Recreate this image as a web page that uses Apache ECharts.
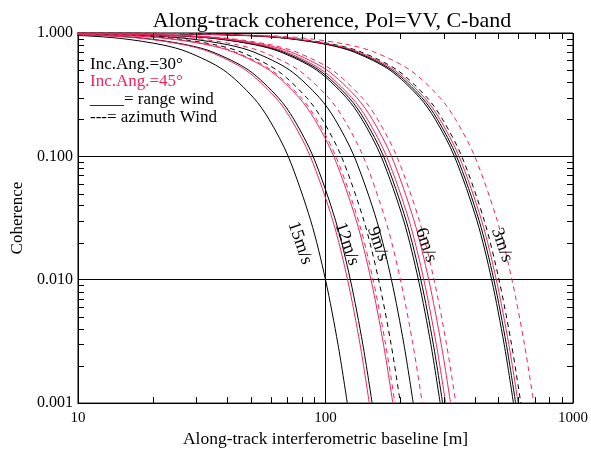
<!DOCTYPE html>
<html>
<head>
<meta charset="utf-8">
<script src="https://cdn.jsdelivr.net/npm/echarts@6/dist/echarts.min.js"></script>
<style>
  html, body { margin: 0; padding: 0; background: #fff; }
  #chart { width: 591px; height: 453px; }
</style>
</head>
<body>
<div id="chart"></div>
<script>
// Coherence levels at which each curve's baseline [m] was sampled
const coherenceLevels = [0.999, 0.99, 0.95, 0.9, 0.8, 0.7, 0.5, 0.3, 0.2, 0.1, 0.03, 0.01, 0.003, 0.001];

// Baselines [m] for each curve, one value per coherence level
const curve15Range30  = [1.47, 4.67, 10.55, 15.12, 22.0, 27.8, 38.8, 51.1, 59.1, 70.7, 87.2, 100.0, 112.3, 122.5];
const curve12Range45  = [1.81, 5.74, 12.95, 18.57, 27.0, 34.2, 47.6, 62.8, 72.6, 86.8, 107.1, 122.8, 137.9, 150.3];
const curve12Range30  = [1.85, 5.89, 13.29, 19.06, 27.7, 35.1, 48.9, 64.4, 74.5, 89.1, 109.9, 126.0, 141.5, 154.3];
const curve9Range45   = [2.25, 7.14, 16.11, 23.1, 33.6, 42.5, 59.3, 78.1, 90.3, 108.0, 133.3, 152.7, 171.5, 187.1];
const curve9Azim45    = [2.29, 7.28, 16.43, 23.6, 34.3, 43.3, 60.4, 79.6, 92.0, 110.1, 135.9, 155.7, 174.9, 190.7];
const curve9Azim30    = [2.41, 7.66, 17.29, 24.8, 36.1, 45.6, 63.6, 83.8, 96.9, 115.9, 143.0, 163.9, 184.1, 200.7];
const curve9Range30   = [2.72, 8.63, 19.49, 27.9, 40.7, 51.4, 71.7, 94.4, 109.2, 130.6, 161.2, 184.7, 207.4, 226.2];
const curve9Azim45b   = [2.95, 9.39, 21.2, 30.4, 44.2, 55.9, 77.9, 102.7, 118.7, 142.0, 175.2, 200.8, 225.5, 246.0];
const curve6Range30   = [3.49, 11.09, 25.0, 35.9, 52.2, 66.0, 92.1, 121.3, 140.3, 167.8, 207.1, 237.3, 266.5, 290.6];
const curve6Range30b  = [3.57, 11.35, 25.6, 36.7, 53.5, 67.6, 94.2, 124.2, 143.5, 171.7, 211.9, 242.8, 272.7, 297.4];
const curve6Range45   = [3.67, 11.67, 26.3, 37.8, 54.9, 69.5, 96.8, 127.6, 147.6, 176.5, 217.8, 249.6, 280.3, 305.7];
const curve6Range45b  = [3.84, 12.22, 27.6, 39.5, 57.5, 72.7, 101.4, 133.6, 154.5, 184.8, 228.0, 261.3, 293.5, 320.1];
const curve6Azim45    = [4.04, 12.83, 29.0, 41.5, 60.4, 76.4, 106.5, 140.4, 162.3, 194.1, 239.5, 274.5, 308.3, 336.2];
const curve3Range30   = [6.90, 21.9, 49.5, 71.0, 103.3, 130.6, 182.1, 239.9, 277.4, 331.8, 409.4, 469.2, 527.0, 574.7];
const curve3Range30b  = [7.04, 22.4, 50.5, 72.4, 105.4, 133.3, 185.8, 244.8, 283.1, 338.6, 417.8, 478.9, 537.8, 586.5];
const curve3Range45   = [7.21, 22.9, 51.7, 74.1, 107.9, 136.4, 190.1, 250.6, 289.7, 346.5, 427.6, 490.0, 550.3, 600.2];
const curve3Azim30    = [7.39, 23.5, 53.0, 76.0, 110.6, 139.8, 195.0, 256.9, 297.0, 355.3, 438.4, 502.5, 564.3, 615.4];
const curve3Azim45    = [8.33, 26.5, 59.8, 85.7, 124.7, 157.7, 219.9, 289.7, 335.0, 400.7, 494.5, 566.7, 636.4, 694.1];

// Axis ticks
const xTickLabels = [10, 100, 1000];
const yTickLabels = ['0.001', '0.010', '0.100', '1.000'];
const xMinorTicks = [20, 30, 40, 50, 60, 70, 80, 90, 200, 300, 400, 500, 600, 700, 800, 900];
const yMinorTicks = [0.002, 0.003, 0.004, 0.005, 0.006, 0.007, 0.008, 0.009,
                     0.02, 0.03, 0.04, 0.05, 0.06, 0.07, 0.08, 0.09,
                     0.2, 0.3, 0.4, 0.5, 0.6, 0.7, 0.8, 0.9];

// Wind speed labels written along the curves
const speedLabels = ['15m/s', '12m/s', '9m/s', '6m/s', '3m/s'];

const BLACK = '#000000';
const RED = '#f0245c';
const FONT = '"Liberation Serif", "DejaVu Serif", serif';
const DASH = [5, 4];

const curves = [
  { data: curve15Range30, color: BLACK, dashed: false },
  { data: curve12Range30, color: BLACK, dashed: false },
  { data: curve9Azim30, color: BLACK, dashed: true },
  { data: curve9Range30, color: BLACK, dashed: false },
  { data: curve6Range30, color: BLACK, dashed: false },
  { data: curve6Range30b, color: BLACK, dashed: false },
  { data: curve3Range30, color: BLACK, dashed: false },
  { data: curve3Range30b, color: BLACK, dashed: false },
  { data: curve3Azim30, color: BLACK, dashed: true },
  { data: curve12Range45, color: RED, dashed: false },
  { data: curve9Range45, color: RED, dashed: false },
  { data: curve9Azim45, color: RED, dashed: true },
  { data: curve9Azim45b, color: RED, dashed: true },
  { data: curve6Range45, color: RED, dashed: false },
  { data: curve6Range45b, color: RED, dashed: false },
  { data: curve6Azim45, color: RED, dashed: true },
  { data: curve3Range45, color: RED, dashed: false },
  { data: curve3Azim45, color: RED, dashed: true }
];

const Y_MIN = 0.001, Y_MAX = 1, X_MIN = 10, X_MAX = 1000;
const TICK = 6;

function crisp(v) { return Math.round(v) + 0.5; }

// Minor ticks on the bottom and top edges
function renderXMinor(params, api) {
  const v = api.value(0);
  const b = api.coord([v, Y_MIN]);
  const t = api.coord([v, Y_MAX]);
  const x = crisp(b[0]);
  return {
    type: 'group',
    children: [
      { type: 'line', shape: { x1: x, y1: b[1], x2: x, y2: b[1] - TICK }, style: { stroke: BLACK, lineWidth: 1 } },
      { type: 'line', shape: { x1: x, y1: t[1], x2: x, y2: t[1] + TICK }, style: { stroke: BLACK, lineWidth: 1 } }
    ]
  };
}

// Minor ticks on the left and right edges
function renderYMinor(params, api) {
  const v = api.value(1);
  const l = api.coord([X_MIN, v]);
  const r = api.coord([X_MAX, v]);
  const y = crisp(l[1]);
  return {
    type: 'group',
    children: [
      { type: 'line', shape: { x1: l[0], y1: y, x2: l[0] + TICK, y2: y }, style: { stroke: BLACK, lineWidth: 1 } },
      { type: 'line', shape: { x1: r[0], y1: y, x2: r[0] - TICK, y2: y }, style: { stroke: BLACK, lineWidth: 1 } }
    ]
  };
}

const series = curves.map(c => ({
  type: 'line',
  data: c.data.map((b, i) => [b, coherenceLevels[i]]),
  showSymbol: false,
  smooth: 0.3,
  clip: true,
  silent: true,
  lineStyle: { color: c.color, width: 1, type: c.dashed ? DASH : 'solid' }
}));

series.push({
  type: 'custom',
  renderItem: renderXMinor,
  data: xMinorTicks.map(v => [v, 0.01]),
  silent: true,
  z: 5
});
series.push({
  type: 'custom',
  renderItem: renderYMinor,
  data: yMinorTicks.map(v => [100, v]),
  silent: true,
  z: 5
});

const chart = echarts.init(document.getElementById('chart'), null, { renderer: 'canvas' });

const labelFont = '17px ' + FONT;
const speedFont = '18px ' + FONT;
const labelAngle = -71 * Math.PI / 180;
const labelSpots = [[300, 243], [347, 244], [378, 244], [426, 245], [502, 245]];

chart.setOption({
  animation: false,
  backgroundColor: '#ffffff',
  title: {
    text: 'Along-track coherence, Pol=VV, C-band',
    left: 327,
    top: 5,
    textAlign: 'center',
    textStyle: { fontFamily: FONT, fontSize: 22, fontWeight: 'normal', color: BLACK }
  },
  grid: {
    left: 78, right: 14, top: 33, bottom: 45,
    show: true, borderColor: BLACK, borderWidth: 1, backgroundColor: 'transparent'
  },
  xAxis: {
    type: 'log',
    logBase: 10,
    min: X_MIN,
    max: X_MAX,
    name: 'Along-track interferometric baseline [m]',
    nameLocation: 'middle',
    nameGap: 23,
    nameTextStyle: { fontFamily: FONT, fontSize: 17.5, color: BLACK },
    axisLine: { show: true, lineStyle: { color: BLACK, width: 1 } },
    axisTick: { show: false },
    splitLine: { show: true, lineStyle: { color: BLACK, width: 1 } },
    axisLabel: {
      fontFamily: FONT, fontSize: 15, color: BLACK, margin: 7,
      formatter: v => {
        const r = Math.round(v);
        return xTickLabels.includes(r) ? String(r) : '';
      }
    }
  },
  yAxis: {
    type: 'log',
    logBase: 10,
    min: Y_MIN,
    max: Y_MAX,
    name: 'Coherence',
    nameLocation: 'middle',
    nameGap: 50,
    nameRotate: 90,
    nameTextStyle: { fontFamily: FONT, fontSize: 17, color: BLACK },
    axisLine: { show: true, lineStyle: { color: BLACK, width: 1 } },
    axisTick: { show: false },
    splitLine: { show: true, lineStyle: { color: BLACK, width: 1 } },
    axisLabel: {
      fontFamily: FONT, fontSize: 16, color: BLACK, margin: 5,
      formatter: v => {
        const idx = Math.round(Math.log10(v)) + 3;
        return yTickLabels[idx] || '';
      }
    }
  },
  graphic: [
    { type: 'text', x: 90, y: 65, style: { text: 'Inc.Ang.=30°', font: labelFont, fill: BLACK, verticalAlign: 'middle' } },
    { type: 'text', x: 90, y: 82, style: { text: 'Inc.Ang.=45°', font: labelFont, fill: RED, verticalAlign: 'middle' } },
    { type: 'text', x: 90, y: 100, style: { text: '____= range wind', font: labelFont, fill: BLACK, verticalAlign: 'middle' } },
    { type: 'text', x: 90, y: 118, style: { text: '---= azimuth Wind', font: labelFont, fill: BLACK, verticalAlign: 'middle' } }
  ].concat(speedLabels.map((t, i) => ({
    type: 'text',
    x: labelSpots[i][0],
    y: labelSpots[i][1],
    rotation: labelAngle,
    z: 10,
    style: { text: t, font: speedFont, fill: BLACK, align: 'center', verticalAlign: 'middle' }
  }))),
  series: series
});
</script>
</body>
</html>
